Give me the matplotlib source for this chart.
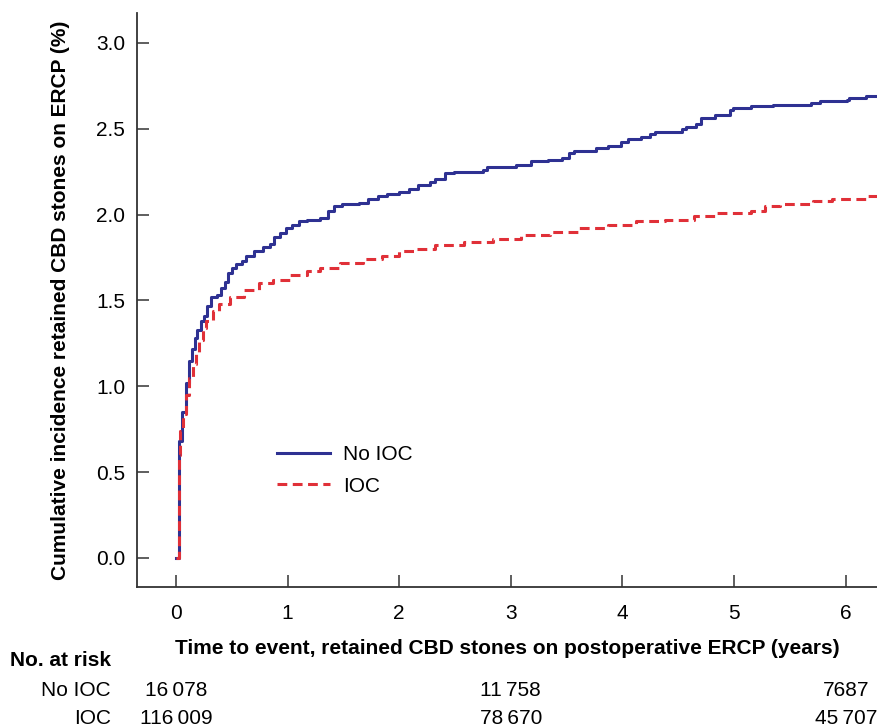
import matplotlib
matplotlib.use("Agg")
import matplotlib.pyplot as plt
import matplotlib.transforms as mtransforms

# --- data ---
t_no_ioc = [0.0, 0.026, 0.05, 0.086, 0.116, 0.14, 0.167, 0.19, 0.22, 0.25, 0.28, 0.31, 0.37, 0.40, 0.44,
            0.47, 0.50, 0.54, 0.59, 0.63, 0.70, 0.78, 0.84, 0.88, 0.93, 0.99, 1.04, 1.10, 1.17, 1.29,
            1.36, 1.42, 1.49, 1.64, 1.72, 1.81, 1.89, 2.00, 2.09, 2.17, 2.28, 2.32, 2.41, 2.49, 2.75,
            2.79, 3.05, 3.18, 3.33, 3.46, 3.52, 3.57, 3.76, 3.87, 3.99, 4.05, 4.17, 4.25, 4.29, 4.53,
            4.57, 4.66, 4.70, 4.83, 4.96, 4.99, 5.15, 5.35, 5.69, 5.77, 6.01, 6.03, 6.18, 6.30]
v_no_ioc = [0.0, 0.68, 0.85, 1.02, 1.15, 1.22, 1.28, 1.33, 1.38, 1.41, 1.47, 1.52, 1.53, 1.57, 1.61,
            1.66, 1.69, 1.71, 1.73, 1.76, 1.79, 1.81, 1.83, 1.87, 1.89, 1.92, 1.94, 1.96, 1.97, 1.98,
            2.02, 2.05, 2.06, 2.07, 2.09, 2.11, 2.12, 2.13, 2.15, 2.17, 2.19, 2.21, 2.24, 2.25, 2.26,
            2.28, 2.29, 2.31, 2.32, 2.33, 2.36, 2.37, 2.39, 2.40, 2.42, 2.44, 2.45, 2.47, 2.48, 2.50,
            2.51, 2.53, 2.56, 2.58, 2.61, 2.62, 2.63, 2.64, 2.65, 2.66, 2.67, 2.68, 2.69, 2.69]

t_ioc = [0.0, 0.026, 0.04, 0.064, 0.086, 0.116, 0.15, 0.18, 0.21, 0.24, 0.27, 0.33, 0.39, 0.48, 0.61,
         0.74, 0.87, 1.02, 1.17, 1.29, 1.47, 1.68, 1.85, 2.00, 2.15, 2.32, 2.58, 2.84, 3.09, 3.35,
         3.61, 3.87, 4.12, 4.38, 4.64, 4.85, 5.15, 5.28, 5.41, 5.71, 5.88, 6.18, 6.30]
v_ioc = [0.0, 0.60, 0.74, 0.84, 0.95, 1.05, 1.13, 1.20, 1.27, 1.34, 1.38, 1.44, 1.48, 1.52, 1.56,
         1.60, 1.62, 1.65, 1.67, 1.69, 1.72, 1.74, 1.76, 1.79, 1.80, 1.82, 1.84, 1.86, 1.88, 1.90,
         1.92, 1.94, 1.96, 1.97, 1.99, 2.01, 2.02, 2.05, 2.06, 2.08, 2.09, 2.11, 2.12]

x_ticks = [0, 1, 2, 3, 4, 5, 6]
y_ticks = [0.0, 0.5, 1.0, 1.5, 2.0, 2.5, 3.0]
y_tick_labels = ["0.0", "0.5", "1.0", "1.5", "2.0", "2.5", "3.0"]

risk_groups = ["No IOC", "IOC"]
risk_times = [0, 3, 6]
risk_no_ioc = ["16\u2009078", "11\u2009758", "7687"]
risk_ioc = ["116\u2009009", "78\u2009670", "45\u2009707"]

BLUE = "#2e3192"
RED = "#e03038"
FONT = ["Liberation Sans", "DejaVu Sans"]
plt.rcParams['font.family'] = FONT
FS = 15

W, H = 877, 727
fig = plt.figure(figsize=(W / 100, H / 100), dpi=100)
ax = fig.add_axes([137 / W, 1 - 587 / H, (W - 137) / W, (587 - 13) / H])

ax.step(t_no_ioc, v_no_ioc, where="post", color=BLUE, lw=2.2, label="No IOC")
ax.step(t_ioc, v_ioc, where="post", color=RED, lw=2.2, ls=(0, (3.2, 1.8)), label="IOC")

ax.set_xlim(-0.349, 6.28)
ax.set_ylim(-0.169, 3.174)
ax.set_xticks(x_ticks)
ax.set_xticklabels([str(x) for x in x_ticks])
ax.set_yticks(y_ticks)
ax.set_yticklabels(y_tick_labels)

for s in ["top", "right"]:
    ax.spines[s].set_visible(False)
for s in ["left", "bottom"]:
    ax.spines[s].set_color("#333333")
    ax.spines[s].set_linewidth(1.3)
ax.tick_params(direction="in", length=8.5, width=1.1, color="#333333", labelsize=FS)
ax.tick_params(axis="y", pad=8.6)
ax.tick_params(axis="x", pad=12.5)

ax.set_ylabel("Cumulative incidence retained CBD stones on ERCP (%)", fontsize=FS,
              fontweight="bold")
ax.yaxis.set_label_coords(-0.0905, 0.5)
ax.set_xlabel("Time to event, retained CBD stones on postoperative ERCP (years)", fontsize=FS,
              fontweight="bold")
ax.xaxis.set_label_coords(0.5, -0.0906)

leg = ax.legend(loc="center left", bbox_to_anchor=(0.1645, 0.203), frameon=False, fontsize=FS,
                handlelength=2.5, handletextpad=0.63, labelspacing=0.58)

# risk table
fig.text(10 / W, 1 - 661 / H, "No. at risk", fontsize=FS, fontweight="bold", ha="left", va="center")
rows_y = [691, 718]
for gname, yy in zip(risk_groups, rows_y):
    fig.text(111 / W, 1 - yy / H, gname, fontsize=FS, ha="right", va="center")
trans = mtransforms.blended_transform_factory(ax.transData, fig.transFigure)
for vals, yy in zip([risk_no_ioc, risk_ioc], rows_y):
    for tt, v in zip(risk_times, vals):
        ax.text(tt, 1 - yy / H, v, fontsize=FS, ha="center", va="center",
                transform=trans, clip_on=False)

fig.savefig("out.png", dpi=100)
